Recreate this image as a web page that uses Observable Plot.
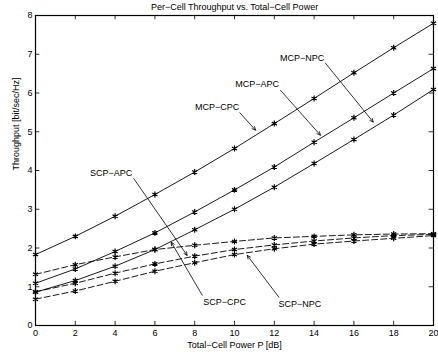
<!DOCTYPE html>
<html>
<head>
<meta charset="utf-8">
<script src="https://cdn.jsdelivr.net/npm/d3@7"></script>
<script src="https://cdn.jsdelivr.net/npm/@observablehq/plot@0.6"></script>
<style>
  html, body { margin: 0; padding: 0; background: white; }
</style>
</head>
<body>
<div id="chart"></div>
<script>
// ---- Data ----
const power = [0, 2, 4, 6, 8, 10, 12, 14, 16, 18, 20];
const mcpCPC = [1.83, 2.30, 2.82, 3.38, 3.96, 4.57, 5.21, 5.86, 6.52, 7.17, 7.80];
const mcpAPC = [1.09, 1.46, 1.91, 2.39, 2.93, 3.50, 4.09, 4.73, 5.36, 6.00, 6.63];
const mcpNPC = [0.86, 1.16, 1.53, 1.96, 2.47, 3.00, 3.57, 4.18, 4.80, 5.43, 6.09];
const scpCPC = [1.32, 1.57, 1.77, 1.96, 2.07, 2.17, 2.26, 2.30, 2.34, 2.36, 2.37];
const scpAPC = [0.87, 1.09, 1.35, 1.59, 1.79, 1.96, 2.08, 2.18, 2.26, 2.32, 2.35];
const scpNPC = [0.68, 0.89, 1.14, 1.40, 1.62, 1.83, 1.98, 2.10, 2.18, 2.25, 2.32];

const seriesNames = ["MCP−CPC", "MCP−APC", "MCP−NPC", "SCP−CPC", "SCP−APC", "SCP−NPC"];
const seriesValues = [mcpCPC, mcpAPC, mcpNPC, scpCPC, scpAPC, scpNPC];

const xTicks = [0, 2, 4, 6, 8, 10, 12, 14, 16, 18, 20];
const yTicks = [0, 1, 2, 3, 4, 5, 6, 7, 8];

const titleText = "Per−Cell Throughput vs. Total−Cell Power";
const xLabel = "Total−Cell Power P [dB]";
const yLabel = "Throughput [bit/sec/Hz]";

// annotations (label text position and arrow from -> to, in data units)
const annLabel = ["MCP−NPC", "MCP−APC", "MCP−CPC", "SCP−APC", "SCP−CPC", "SCP−NPC"];
const annTextX = [13.4, 11.14, 9.13, 3.80, 9.5, 13.28];
const annTextY = [6.89, 6.22, 5.64, 3.94, 0.60, 0.56];
const arrowX1 = [14.57, 12.31, 10.27, 4.94, 8.38, 12.23];
const arrowY1 = [6.77, 6.07, 5.49, 3.79, 0.78, 0.73];
const arrowX2 = [16.97, 14.32, 11.06, 7.62, 6.82, 10.64];
const arrowY2 = [5.25, 4.91, 5.04, 1.81, 2.15, 1.81];

// ---- Build tables ----
const rows = [];
seriesNames.forEach((name, s) => {
  power.forEach((p, i) => rows.push({series: name, type: name.startsWith("MCP") ? "solid" : "dashed", x: p, y: seriesValues[s][i]}));
});
const solidRows = rows.filter(d => d.type === "solid");
const dashedRows = rows.filter(d => d.type === "dashed");
const ann = annLabel.map((t, i) => ({t, tx: annTextX[i], ty: annTextY[i], x1: arrowX1[i], y1: arrowY1[i], x2: arrowX2[i], y2: arrowY2[i]}));

const chart = Plot.plot({
  width: 438,
  height: 352,
  marginLeft: 35,
  marginRight: 5,
  marginTop: 15,
  marginBottom: 27,
  style: {fontFamily: "'Liberation Sans', Arial, sans-serif", fontSize: "9px", background: "white", color: "black"},
  x: {domain: [0, 20]},
  y: {domain: [0, 8]},
  marks: [
    Plot.axisX({ticks: xTicks, tickSize: 0, tickPadding: 4, label: null, fontSize: 9}),
    Plot.axisY({ticks: yTicks, tickSize: 0, tickPadding: 3, label: null, fontSize: 9}),
    // inward ticks on all four sides
    Plot.ruleX(xTicks, {x: d => d, y1: 0, y2: 0.11, stroke: "black", strokeWidth: 0.8}),
    Plot.ruleX(xTicks, {x: d => d, y1: 8, y2: 7.89, stroke: "black", strokeWidth: 0.8}),
    Plot.ruleY(yTicks, {y: d => d, x1: 0, x2: 0.22, stroke: "black", strokeWidth: 0.8}),
    Plot.ruleY(yTicks, {y: d => d, x1: 20, x2: 19.78, stroke: "black", strokeWidth: 0.8}),
    Plot.line(solidRows, {x: "x", y: "y", z: "series", stroke: "black", strokeWidth: 0.9}),
    Plot.line(dashedRows, {x: "x", y: "y", z: "series", stroke: "black", strokeWidth: 0.9, strokeDasharray: "6,3"}),
    Plot.dot(rows, {x: "x", y: "y", symbol: "asterisk", r: 2.8, stroke: "black", strokeWidth: 1.2}),
    Plot.arrow(ann, {x1: "x1", y1: "y1", x2: "x2", y2: "y2", stroke: "black", strokeWidth: 0.8, headLength: 7, headAngle: 50}),
    Plot.text(ann, {x: "tx", y: "ty", text: "t", fontSize: 9, fill: "black"}),
    Plot.frame({stroke: "black", strokeWidth: 1.2}),
    Plot.text([titleText], {frameAnchor: "top", dy: -8, lineAnchor: "middle", fontSize: 9, fill: "black"}),
    Plot.text([xLabel], {frameAnchor: "bottom", dy: 20, lineAnchor: "middle", fontSize: 9, fill: "black"}),
    Plot.text([yLabel], {frameAnchor: "left", dx: -19, rotate: -90, lineAnchor: "middle", fontSize: 9, fill: "black"})
  ]
});
document.getElementById("chart").appendChild(chart);
</script>
</body>
</html>
